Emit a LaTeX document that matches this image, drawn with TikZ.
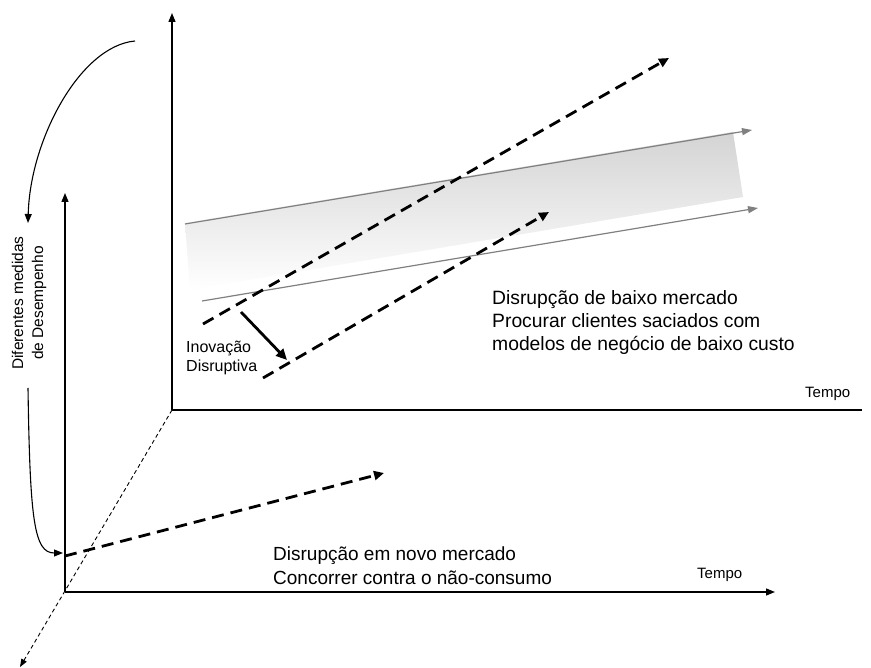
\documentclass[tikz,border=0pt]{standalone}
\usepackage{fontspec}
\setmainfont{Liberation Sans}
\usetikzlibrary{arrows.meta}
\begin{document}
\begin{tikzpicture}[x=1pt,y=-1pt,
  axisline/.style={line width=1.3pt},
  axisarrow/.style={line width=1.3pt, -{Triangle[length=9pt,width=7pt]}},
  bendarrow/.style={line width=1.1pt, -{Triangle[length=9pt,width=7pt]}},
  trend/.style={line width=2.8pt, dash pattern=on 12pt off 7pt, -{Triangle[length=10pt,width=9pt]}},
  depth/.style={line width=0.9pt, dash pattern=on 4pt off 3pt, -{Triangle[length=8pt,width=6pt]}},
  band/.style={draw=black!50, line width=1.2pt, -{Triangle[length=10pt,width=7pt]}},
  jump/.style={line width=2.8pt, -{Triangle[length=11pt,width=10pt]}},
  lbl/.style={inner sep=0pt, align=left},
]
\useasboundingbox (0,0) rectangle (871,668);

% origins of the two coordinate systems
\coordinate (o1) at (65,592);
\coordinate (o2) at (172,410);
\coordinate (y1) at (65,193);
\coordinate (x1) at (775,592);
\coordinate (y2) at (172,13);
\coordinate (x2) at (862,410);
\coordinate (zend) at (20,667);

% shaded performance band
\shade[top color=black!17, bottom color=white]
  (185,223) -- (733,132) -- (743,197) -- (190,290) -- cycle;
\coordinate (b1s) at (185,224);
\coordinate (b1e) at (752,130);
\coordinate (b2s) at (202,301);
\coordinate (b2e) at (758,208);
\draw[band] (b1s) -- (b1e);
\draw[band] (b2s) -- (b2e);

% axes
\draw[axisarrow] (o2) -- (y2);
\draw[axisline] (o2) -- (x2);
\draw[axisarrow] (o1) -- (y1);
\draw[axisarrow] (o1) -- (x1);
\draw[depth] (o2) -- (zend);

% disruptive trajectories
\coordinate (d1s) at (203,324);
\coordinate (d1e) at (669,58);
\coordinate (d2s) at (263,378);
\coordinate (d2e) at (549,212);
\coordinate (d3s) at (65,556);
\coordinate (d3e) at (384,473);
\draw[trend] (d1s) -- (d1e);
\draw[trend] (d2s) -- (d2e);
\draw[trend] (d3s) -- (d3e);

\coordinate (js) at (241,312);
\coordinate (je) at (287,360);
\draw[jump] (js) -- (je);

% labels (base anchor sits on the last line of each block)
\node[lbl, rotate=90, align=center, font=\fontsize{15.5}{20}\selectfont] (perf) at (29,303)
  {Diferentes medidas\\de Desempenho};
\node[lbl, anchor=base west, font=\fontsize{16}{19}\selectfont] (innov) at (186,372)
  {Inovação\\Disruptiva};
\node[lbl, anchor=base west, font=\fontsize{19.3}{23}\selectfont] (low) at (492,351)
  {Disrupção de baixo mercado\\Procurar clientes saciados com\\modelos de negócio de baixo custo};
\node[lbl, anchor=base west, font=\fontsize{19}{24}\selectfont] (new) at (273,584)
  {Disrupção em novo mercado\\Concorrer contra o não-consumo};
\node[lbl, anchor=base west, font=\fontsize{15}{18}\selectfont] (t2) at (805,398) {Tempo};
\node[lbl, anchor=base west, font=\fontsize{15}{18}\selectfont] (t1) at (697,578) {Tempo};

% curved pointers to the performance label
\coordinate (c1s) at (135,41);
\coordinate (c1e) at (28,223);
\coordinate (c2s) at (28,388);
\coordinate (c2e) at (63,553);
\draw[bendarrow] (c1s) .. controls (80,46) and (30,140) .. (c1e);
\draw[bendarrow] (c2s) .. controls (30,520) and (34,553) .. (c2e);
\end{tikzpicture}
\end{document}
